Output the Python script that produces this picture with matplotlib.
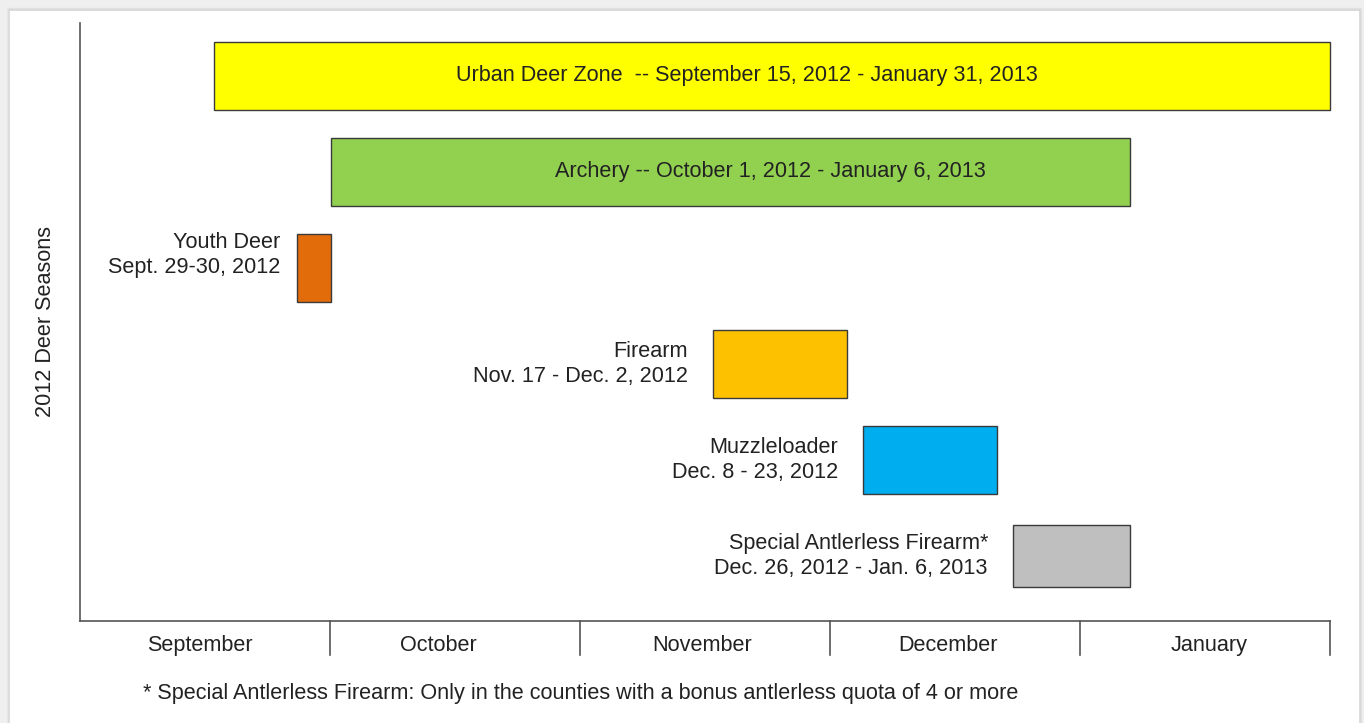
import matplotlib.pyplot as plt
from matplotlib.patches import Rectangle

plt.rcParams['font.family'] = ['Liberation Sans', 'DejaVu Sans']

# season bars, in month units (0 = start of September, 5 = end of January)
seasons = ['Urban Deer Zone', 'Archery', 'Youth Deer', 'Firearm',
           'Muzzleloader', 'Special Antlerless Firearm*']
dates = ['September 15, 2012 - January 31, 2013', 'October 1, 2012 - January 6, 2013',
         'Sept. 29-30, 2012', 'Nov. 17 - Dec. 2, 2012', 'Dec. 8 - 23, 2012',
         'Dec. 26, 2012 - Jan. 6, 2013']
start = [0.536, 1.004, 0.868, 2.532, 3.132, 3.732]
end = [5.0, 4.2, 1.004, 3.068, 3.668, 4.2]
colors = ['#ffff00', '#92d050', '#e26b0a', '#fdc100', '#00adef', '#bfbfbf']
inside = [True, True, False, False, False, False]

months = ['September', 'October', 'November', 'December', 'January']
month_label_x = [0.478, 1.432, 2.488, 3.472, 4.516]

FS = 15.6
TXT = '#222222'

fig = plt.figure(figsize=(13.64, 7.23), dpi=100)
fig.patch.set_facecolor('#efefef')

# white panel with a soft shadow
W, H = 1364, 723
for k in range(6):
    fig.patches.append(Rectangle(((10 - 3 + k * 0.5) / W, -0.05), (1348 + 6 - k) / W,
                                 (723 - 11 + 3 - k * 0.5) / H + 0.05,
                                 transform=fig.transFigure, color='#b0b0b0',
                                 alpha=0.06, zorder=-3))
fig.patches.append(Rectangle((10 / W, -0.05), 1348 / W, (723 - 11) / H + 0.05,
                             transform=fig.transFigure, color='white', zorder=-2))

ax = fig.add_axes([80 / W, 1 - 621 / H, 1250 / W, 598 / H])
ax.set_facecolor('none')
ax.set_xlim(0, 5)
ax.set_ylim(5.677, -0.552)

heights = [0.708, 0.708, 0.708, 0.708, 0.708, 0.656]
for i in range(len(seasons)):
    bars = ax.barh(i, end[i] - start[i], left=start[i], height=heights[i], color=colors[i],
                   edgecolor='#3a3a3a', linewidth=1.0, zorder=3)
    for b in bars:
        b.set_clip_on(False)

ax.text(2.668, 0, 'Urban Deer Zone  -- ' + dates[0], ha='center', va='center',
        fontsize=FS, color=TXT, zorder=4)
ax.text(2.76, 1, 'Archery -- ' + dates[1], ha='center', va='center',
        fontsize=FS, color=TXT, zorder=4)

for i in range(len(seasons)):
    if inside[i]:
        continue
    gap = 0.068 if i == 2 else 0.1
    dy = -0.135 if i == 2 else 0.0
    ax.text(start[i] - gap, i + dy, seasons[i] + '\n' + dates[i], ha='right', va='center',
            fontsize=FS, color=TXT, linespacing=1.2, zorder=4)

for s in ['top', 'right']:
    ax.spines[s].set_visible(False)
for s in ['left', 'bottom']:
    ax.spines[s].set_color('#555555')
    ax.spines[s].set_linewidth(1.2)

ax.set_yticks([])
ax.set_xticks(month_label_x)
ax.set_xticklabels(months, fontsize=FS, color=TXT)
ax.tick_params(axis='x', length=0, pad=10)

# month separators below the axis
for m in range(1, 6):
    ax.plot([m, m], [5.677, 6.03], color='#555555', lw=1.2, clip_on=False, zorder=2)

ax.set_ylabel('2012 Deer Seasons', fontsize=FS, color=TXT, labelpad=17)

fig.text(143 / W, 1 - 693 / H,
         '* Special Antlerless Firearm: Only in the counties with a bonus antlerless quota of 4 or more',
         ha='left', va='center', fontsize=FS, color=TXT)

fig.savefig('out.png', dpi=100, facecolor=fig.get_facecolor())
